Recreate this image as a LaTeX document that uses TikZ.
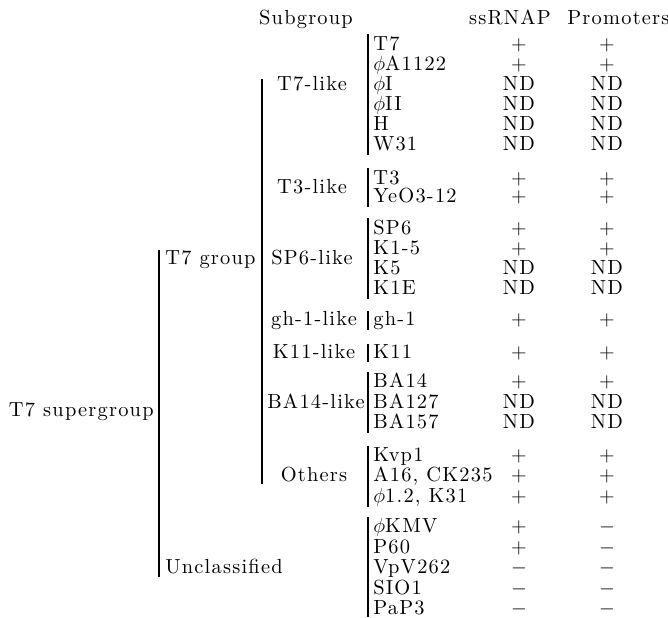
\documentclass[tikz,border=0pt]{standalone}
\usepackage{fontspec}
\setmainfont{lmroman10-regular}[Extension=.otf, LetterSpace=6]
\newcommand\valP{$+$}
\newcommand\valM{$-$}
\newcommand\valN{ND}
\begin{document}
\begin{tikzpicture}[x=0.588pt,y=-0.588pt,
  every node/.style={inner sep=0pt, font=\fontsize{12}{13}\selectfont},
  phname/.style={anchor=base west},
  val/.style={anchor=base},
  sub/.style={anchor=base},
  bar/.style={line width=1.4pt},
  bigbar/.style={line width=1.7pt}]
\useasboundingbox (0,0) rectangle (668,617);
% headers
\node[anchor=base] (hsub) at (306,24) {Subgroup};
\node[anchor=base] (hss) at (510,24) {ssRNAP};
\node[anchor=base west] (hpro) at (567,24) {Promoters};
% rows
\foreach \i/\y/\n/\a/\b in {
 p1/50/T7/\valP/\valP,
 p2/70/$\phi$A1122/\valP/\valP,
 p3/90/$\phi$I/\valN/\valN,
 p4/110/$\phi$II/\valN/\valN,
 p5/130/H/\valN/\valN,
 p6/150/W31/\valN/\valN,
 p7/184/T3/\valP/\valP,
 p8/202/YeO3-12/\valP/\valP,
 p9/234/SP6/\valP/\valP,
 p10/254/K1-5/\valP/\valP,
 p11/274/K5/\valN/\valN,
 p12/294/K1E/\valN/\valN,
 p13/325/gh-1/\valP/\valP,
 p14/358/K11/\valP/\valP,
 p15/387/BA14/\valP/\valP,
 p16/408/BA127/\valN/\valN,
 p17/428/BA157/\valN/\valN,
 p18/461/Kvp1/\valP/\valP,
 p19/481/{A16, CK235}/\valP/\valP,
 p20/502/{$\phi$1.2, K31}/\valP/\valP,
 p21/532/$\phi$KMV/\valP/\valM,
 p22/553/P60/\valP/\valM,
 p23/573/VpV262/\valM/\valM,
 p24/594/SIO1/\valM/\valM,
 p25/614/PaP3/\valM/\valM}{
  \node[phname] (\i) at (373,\y) {\n};
  \node[val] (\i a) at (519,\y) {\a};
  \node[val] (\i b) at (607,\y) {\b};
}
% phage group bars
\foreach \g/\t/\e in {g1/34/155, g2/168/207, g3/218/299, g4/311/330,
  g5/344/362, g6/372/433, g7/446/507, g8/517/617}{
  \coordinate (\g t) at (368,\t);
  \coordinate (\g b) at (368,\e);
  \draw[bar] (\g t) -- (\g b);
}
% subgroup labels
\node[sub] (s1) at (312,90) {T7-like};
\node[sub] (s2) at (312,193) {T3-like};
\node[sub] (s3) at (312,264) {SP6-like};
\node[sub] (s4) at (314,325) {gh-1-like};
\node[sub] (s5) at (314,358) {K11-like};
\node[sub] (s6) at (316,408) {BA14-like};
\node[sub] (s7) at (314,481) {Others};
% T7 group bar
\coordinate (tgt) at (262,79);
\coordinate (tgb) at (262,484);
\draw[bar] (tgt) -- (tgb);
\node[anchor=base west] (tg) at (165,264) {T7 group};
\node[anchor=base west] (uc) at (165,573) {Unclassified};
% supergroup bar
\coordinate (sgt) at (159,250);
\coordinate (sgb) at (159,577);
\draw[bigbar] (sgt) -- (sgb);
\node[anchor=base east] (sg) at (154,416) {T7 supergroup};
\end{tikzpicture}
\end{document}
